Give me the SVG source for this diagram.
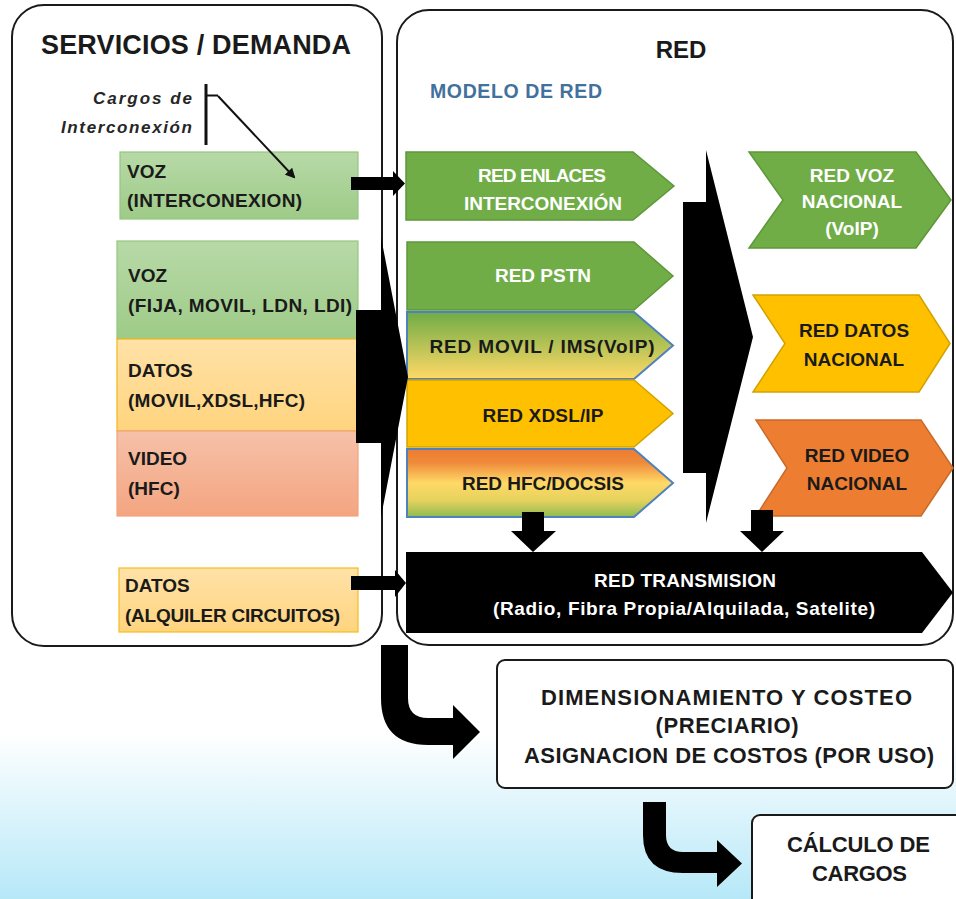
<svg xmlns="http://www.w3.org/2000/svg" width="956" height="899" viewBox="0 0 956 899">
<defs>
  <linearGradient id="bg" x1="0" y1="0" x2="0" y2="1">
    <stop offset="0.815" stop-color="#ffffff"/>
    <stop offset="1" stop-color="#b6e8f8"/>
  </linearGradient>
  <linearGradient id="gLG" x1="0" y1="0" x2="0" y2="1">
    <stop offset="0" stop-color="#b7d9a7"/>
    <stop offset="1" stop-color="#9ecb88"/>
  </linearGradient>
  <linearGradient id="gLY" x1="0" y1="0" x2="0" y2="1">
    <stop offset="0" stop-color="#ffe2a8"/>
    <stop offset="1" stop-color="#ffd47e"/>
  </linearGradient>
  <linearGradient id="gSal" x1="0" y1="0" x2="0" y2="1">
    <stop offset="0" stop-color="#f6c1a9"/>
    <stop offset="1" stop-color="#f4a580"/>
  </linearGradient>
  <linearGradient id="gMovil" x1="0" y1="0" x2="0" y2="1">
    <stop offset="0" stop-color="#6fac46"/>
    <stop offset="1" stop-color="#ffd966"/>
  </linearGradient>
  <linearGradient id="gHfc" x1="0" y1="0" x2="0" y2="1">
    <stop offset="0" stop-color="#ec7c30"/>
    <stop offset="0.2" stop-color="#ef8a3a"/>
    <stop offset="0.5" stop-color="#ffd966"/>
    <stop offset="0.75" stop-color="#e6d25e"/>
    <stop offset="1" stop-color="#8fbb4f"/>
  </linearGradient>
  <marker id="ah" markerWidth="10" markerHeight="10" refX="8" refY="5" orient="auto" markerUnits="userSpaceOnUse">
    <path d="M0,0 L10,5 L0,10 Z" fill="#111"/>
  </marker>
</defs>
<style>
  .t{font-family:"Liberation Sans",Arial,sans-serif;font-weight:bold}
  .dk{fill:#1a1a1a}
  .wh{fill:#ffffff}
  .c{text-anchor:middle}
  .n{font-size:19px}
  .b{font-size:22px}
  .panel{fill:#ffffff;stroke:#1a1a1a;stroke-width:2}
  .box{fill:#ffffff;stroke:#1a1a1a;stroke-width:2}
  .green{fill:#70ad47;stroke:#5e973a;stroke-width:1.5}
  .yellow{fill:#ffc000;stroke:#d1a200;stroke-width:1.5}
  .orange{fill:#ed7d31;stroke:#c96a2a;stroke-width:1.5}
  .blueb{stroke:#4f81bd;stroke-width:2}
  .blk{fill:#000000}
</style>

<rect x="0" y="0" width="956" height="899" fill="url(#bg)"/>

<g id="panel-servicios">
  <rect class="panel" x="12" y="5" width="370" height="641" rx="32"/>
  <text class="t dk" x="41" y="54" font-size="27" textLength="310">SERVICIOS / DEMANDA</text>
</g>

<g id="panel-red">
  <rect class="panel" x="397" y="10" width="556" height="635" rx="32"/>
  <text class="t dk c" x="681" y="58" font-size="24">RED</text>
  <text class="t" x="430" y="98" font-size="19.5" fill="#41719c" textLength="172">MODELO DE RED</text>
</g>

<g id="cargos-label">
  <text class="t" x="192" y="104" font-size="17" font-style="italic" fill="#262626" text-anchor="end" textLength="99">Cargos de</text>
  <text class="t" x="192" y="133" font-size="17" font-style="italic" fill="#262626" text-anchor="end" textLength="131">Interconexión</text>
</g>

<g id="voz-interconexion">
  <rect x="120" y="152" width="238" height="67" fill="url(#gLG)" stroke="#95c581" stroke-width="1.2"/>
  <text class="t dk n" x="127" y="178">VOZ</text>
  <text class="t dk n" x="127" y="207" textLength="175">(INTERCONEXION)</text>
</g>

<g id="voz-fija">
  <rect x="117" y="241" width="241" height="98" fill="url(#gLG)" stroke="#95c581" stroke-width="1.2"/>
  <text class="t dk n" x="128" y="282">VOZ</text>
  <text class="t dk n" x="128" y="312" textLength="224">(FIJA, MOVIL, LDN, LDI)</text>
</g>

<g id="datos-movil">
  <rect x="117" y="339" width="241" height="92" fill="url(#gLY)" stroke="#f2b61a" stroke-width="1.2"/>
  <text class="t dk n" x="128" y="377">DATOS</text>
  <text class="t dk n" x="128" y="407" textLength="177">(MOVIL,XDSL,HFC)</text>
</g>

<g id="video-hfc">
  <rect x="117" y="431" width="241" height="85" fill="url(#gSal)" stroke="#f4a27c" stroke-width="1.2"/>
  <text class="t dk n" x="128" y="465">VIDEO</text>
  <text class="t dk n" x="128" y="495">(HFC)</text>
</g>

<g id="datos-alquiler">
  <rect x="119" y="568" width="239" height="64" fill="url(#gLY)" stroke="#f5bc1e" stroke-width="1.2"/>
  <text class="t dk n" x="125" y="592">DATOS</text>
  <text class="t dk n" x="125" y="622" textLength="215">(ALQUILER CIRCUITOS)</text>
</g>

<g id="red-enlaces">
  <polygon class="green" points="406,152 633,152 674,186 633,220 406,220"/>
  <text class="t wh n c" x="542" y="182" textLength="128">RED ENLACES</text>
  <text class="t wh n c" x="543" y="210" textLength="158">INTERCONEXIÓN</text>
</g>

<g id="red-pstn">
  <polygon class="green" points="407,242 634,242 673,276 634,310 407,310"/>
  <text class="t wh n c" x="543" y="282">RED PSTN</text>
</g>

<g id="red-movil">
  <polygon class="blueb" fill="url(#gMovil)" points="407,312 634,312 673,345.5 634,379 407,379"/>
  <text class="t dk n c" x="542" y="353" textLength="225">RED MOVIL / IMS(VoIP)</text>
</g>

<g id="red-xdsl">
  <polygon class="yellow" points="407,380 634,380 673,413.5 634,447 407,447"/>
  <text class="t dk n c" x="543" y="422" textLength="121">RED XDSL/IP</text>
</g>

<g id="red-hfc">
  <polygon class="blueb" fill="url(#gHfc)" points="407,449 634,449 673,483 634,517 407,517"/>
  <text class="t dk n c" x="543" y="490" textLength="162">RED HFC/DOCSIS</text>
</g>

<g id="red-voz-nacional">
  <polygon class="green" points="749,152 916,152 951,200 916,248 749,248 783,200"/>
  <text class="t wh n c" x="852" y="182">RED VOZ</text>
  <text class="t wh n c" x="852" y="208">NACIONAL</text>
  <text class="t wh n c" x="852" y="235">(VoIP)</text>
</g>

<g id="red-datos-nacional">
  <polygon class="yellow" points="753,295 919,295 950,343.5 919,392 753,392 785,343.5"/>
  <text class="t dk n c" x="854" y="337">RED DATOS</text>
  <text class="t dk n c" x="854" y="366">NACIONAL</text>
</g>

<g id="red-video-nacional">
  <polygon class="orange" points="756,420 921,420 953,468 921,516 756,516 787,468"/>
  <text class="t dk n c" x="857" y="462">RED VIDEO</text>
  <text class="t dk n c" x="857" y="490">NACIONAL</text>
</g>

<g id="red-transmision">
  <polygon class="blk" points="406,552 922,552 953,592.5 922,633 406,633"/>
  <text class="t wh n c" x="685" y="587" textLength="182">RED TRANSMISION</text>
  <text class="t wh n c" x="684" y="615" textLength="382">(Radio, Fibra Propia/Alquilada, Satelite)</text>
</g>

<g id="dimensionamiento">
  <rect class="box" x="497" y="660" width="456" height="128" rx="8"/>
  <text class="t dk b c" x="726.5" y="705" textLength="371">DIMENSIONAMIENTO Y COSTEO</text>
  <text class="t dk b c" x="727" y="733" textLength="143">(PRECIARIO)</text>
  <text class="t dk b c" x="729" y="763" textLength="410">ASIGNACION DE COSTOS (POR USO)</text>
</g>

<g id="calculo-cargos">
  <rect class="box" x="752" y="815" width="215" height="100" rx="8"/>
  <text class="t dk b c" x="858.5" y="852" textLength="143">CÁLCULO DE</text>
  <text class="t dk b c" x="859.5" y="881" textLength="95">CARGOS</text>
</g>

<g id="connectors">
  <!-- Cargos bracket and pointer -->
  <line x1="206" y1="84" x2="206" y2="145" stroke="#111" stroke-width="3"/>
  <line x1="206" y1="95.5" x2="218" y2="95.5" stroke="#111" stroke-width="2"/>
  <line x1="218" y1="96" x2="294" y2="177" stroke="#111" stroke-width="2" marker-end="url(#ah)"/>
  <!-- VOZ interconexion -> RED ENLACES -->
  <polygon class="blk" points="351,177 393,177 393,171 405,183.5 393,196 393,190 351,190"/>
  <!-- services block -> access networks -->
  <polygon class="blk" points="356,310 381,310 381,237 408,377 381,517 381,443 356,443"/>
  <!-- access networks -> national networks -->
  <polygon class="blk" points="683,202 706,202 706,150 753,337 706,523 706,473 683,473"/>
  <!-- DATOS alquiler -> RED TRANSMISION -->
  <polygon class="blk" points="351,576 395,576 395,570 406,583 395,597 395,590 351,590"/>
  <!-- down arrows to transmision -->
  <polygon class="blk" points="522,512 544,512 544,531 556,531 533,552 511,531 522,531"/>
  <polygon class="blk" points="751,510 773,510 773,531 784,531 762,552 740,531 751,531"/>
  <!-- curved arrows -->
  <path class="blk" d="M381,645 H408 V698 Q408,718 428,718 H453 V705 L480,732 L453,759 V745 H428 Q381,745 381,698 Z"/>
  <path class="blk" d="M643,802 H666 V835 Q666,852 683,852 H717 V840 L742,863.5 L717,887 V873 H683 Q643,873 643,835 Z"/>
</g>
</svg>
